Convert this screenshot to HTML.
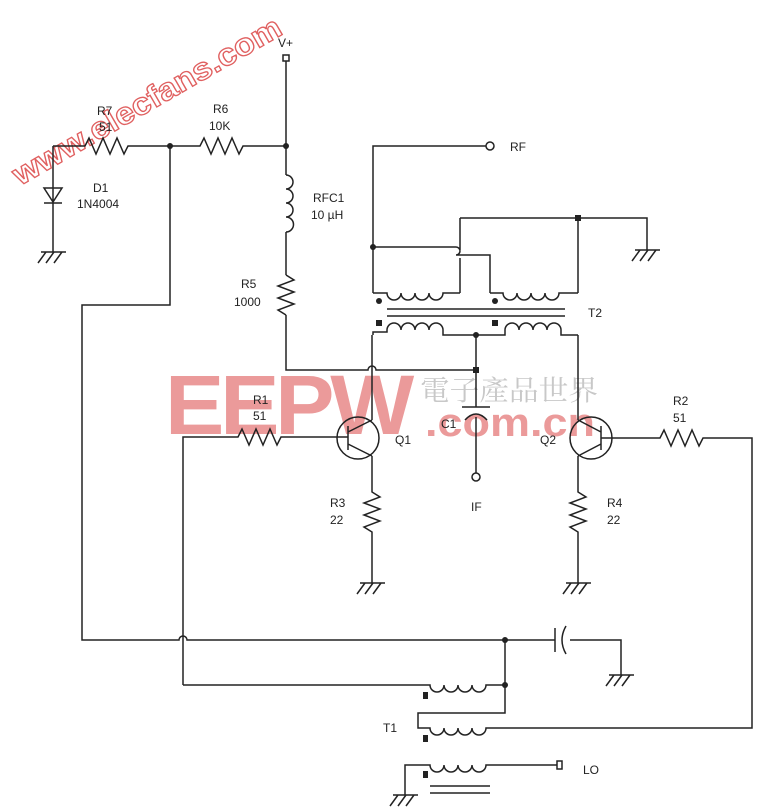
<!DOCTYPE html>
<html><head><meta charset="utf-8"><style>
html,body{margin:0;padding:0;background:#fff;}
svg{display:block;}
text{font-family:"Liberation Sans",sans-serif;font-size:12px;fill:#222;}
</style></head><body>
<svg width="759" height="810" viewBox="0 0 759 810" xmlns="http://www.w3.org/2000/svg">
<g>
<text x="165" y="434" style="font-size:84px;font-weight:bold;fill:#eb9a9a;letter-spacing:-4px" textLength="245" lengthAdjust="spacingAndGlyphs">EEPW</text>
<text x="420" y="400" style="font-family:'Noto Serif CJK SC',serif;font-size:28px;fill:#c8c8c8" textLength="178" lengthAdjust="spacingAndGlyphs">電子產品世界</text>
<text x="425" y="436" style="font-size:40px;font-weight:bold;fill:#eb9a9a" textLength="170" lengthAdjust="spacingAndGlyphs">.com.cn</text>
<text x="0" y="0" transform="translate(20,186) rotate(-30)" style="font-size:31px;font-weight:bold;fill:#fff;stroke:#e06060;stroke-width:1.3" textLength="305" lengthAdjust="spacingAndGlyphs">www.elecfans.com</text>
</g>
<g fill="none" stroke="#222" stroke-width="1.5">
<rect x="283" y="55" width="6" height="6"/>
<path d="M286 61V175M286 232V275M286 315V370H368a4 4 0 0 1 8 0H476"/>
<path d="M286 175a7 7 0 0 1 0 14a7 7 0 0 1 0 14a7 7 0 0 1 0 14a7 7 0 0 1 0 15"/>
<path d="M286 275l8 5l-16 6l16 6l-16 6l16 6l-16 6l8 5"/>
<path d="M53 146H85l4-8 7 16 7-16 7 16 7-16 7 16 4-8H200l4-8 7 16 7-16 7 16 7-16 7 16 4-8H286"/>
<path d="M53 146V252M44 188H62L53 202ZM44 203H62"/>
<path d="M41 252H66M46 252l-8 11M54 252l-8 11M62 252l-8 11"/>
<path d="M170 146V305H82V640H179a4 4 0 0 1 8 0H555M570 640H621V675"/>
<path d="M555 628V652"/><path d="M566 626q-8 14 0 28"/>
<path d="M609 675H634M614 675l-8 11M622 675l-8 11M630 675l-8 11"/>
<path d="M183 685V437H238l4-8 7 16 7-16 7 16 7-16 7 16 4-8H348"/>
<circle cx="358" cy="438" r="21"/>
<path d="M348 426V450M348 432L372 420M348 444L372 456M372 420V335M372 456V492l8 5-16 6 16 6-16 6 16 6-16 6 8 5V583"/>
<path d="M360 583H385M365 583l-8 11M373 583l-8 11M381 583l-8 11"/>
<circle cx="591" cy="438" r="21"/>
<path d="M601 426V450M601 432L578 420M601 444L578 456M578 420V335M578 456V492l8 5-16 6 16 6-16 6 16 6-16 6 8 5V583"/>
<path d="M566 583H591M571 583l-8 11M579 583l-8 11M587 583l-8 11"/>
<path d="M601 438H660l4-8 7 16 7-16 7 16 7-16 7 16 4-8H752V728H490"/>
<path d="M476 335V407M462 407H490M476 417V473"/>
<path d="M465 420q11-12 22 0"/>
<circle cx="476" cy="477" r="4"/>
<path d="M486 146H373V293M373 247H456a4 4 0 0 1 0 8H490V293M460 218V250M460 258V293M460 218H647V250M578 218V293"/>
<path d="M635 250H660M640 250l-8 11M648 250l-8 11M656 250l-8 11"/>
<path d="M373 293H387a7 7 0 0 0 14 0a7 7 0 0 0 14 0a7 7 0 0 0 14 0a7 7 0 0 0 14 0V293H460"/>
<path d="M490 293H503a7 7 0 0 0 14 0a7 7 0 0 0 14 0a7 7 0 0 0 14 0a7 7 0 0 0 14 0H578"/>
<path d="M387 309H565M387 316H565"/>
<path d="M373 335V332H387V330a7 7 0 0 1 14 0a7 7 0 0 1 14 0a7 7 0 0 1 14 0a7 7 0 0 1 14 0V335H505V330a7 7 0 0 1 14 0a7 7 0 0 1 14 0a7 7 0 0 1 14 0a7 7 0 0 1 14 0V335H578"/>
<circle cx="490" cy="146" r="4" fill="#fff"/>
<path d="M183 685H430a7 7 0 0 0 14 0a7 7 0 0 0 14 0a7 7 0 0 0 14 0a7 7 0 0 0 14 0V685H505M505 640V713H418V728H430a7 7 0 0 0 14 0a7 7 0 0 0 14 0a7 7 0 0 0 14 0a7 7 0 0 0 14 0H490"/>
<path d="M405 795V765H430a7 7 0 0 0 14 0a7 7 0 0 0 14 0a7 7 0 0 0 14 0a7 7 0 0 0 14 0V765H557"/>
<rect x="557" y="761" width="5" height="8"/>
<path d="M430 786H490M430 793H490"/>
<path d="M393 795H418M398 795l-8 11M406 795l-8 11M414 795l-8 11"/>
</g>
<g fill="#222">
<circle cx="286" cy="146" r="3"/><circle cx="170" cy="146" r="3"/>
<circle cx="373" cy="247" r="3"/><rect x="575" y="215" width="6" height="6"/>
<circle cx="379" cy="301" r="3"/><circle cx="495" cy="301" r="3"/>
<rect x="376" y="320" width="6" height="6"/><rect x="492" y="320" width="6" height="6"/>
<circle cx="476" cy="335" r="3"/><rect x="473" y="367" width="6" height="6"/>
<circle cx="505" cy="640" r="3"/><circle cx="505" cy="685" r="3"/>
<rect x="423" y="692" width="5" height="7"/><rect x="423" y="735" width="5" height="7"/><rect x="423" y="771" width="5" height="7"/>
</g>
<text x="278" y="47">V+</text>
<text x="97" y="115">R7</text><text x="99" y="131">51</text>
<text x="213" y="113">R6</text><text x="209" y="130">10K</text>
<text x="93" y="192">D1</text><text x="77" y="208">1N4004</text>
<text x="313" y="202">RFC1</text><text x="311" y="219">10 µH</text>
<text x="241" y="288">R5</text><text x="234" y="306">1000</text>
<text x="510" y="151">RF</text>
<text x="588" y="317">T2</text>
<text x="253" y="404">R1</text><text x="253" y="420">51</text>
<text x="395" y="444">Q1</text>
<text x="441" y="428">C1</text>
<text x="540" y="444">Q2</text>
<text x="673" y="405">R2</text><text x="673" y="422">51</text>
<text x="330" y="507">R3</text><text x="330" y="524">22</text>
<text x="607" y="507">R4</text><text x="607" y="524">22</text>
<text x="471" y="511">IF</text>
<text x="383" y="732">T1</text>
<text x="583" y="774">LO</text>
</svg>
</body></html>
